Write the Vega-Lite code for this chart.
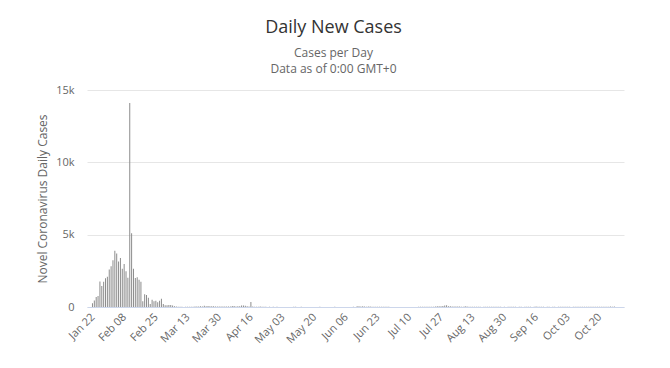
{
"$schema": "https://vega.github.io/schema/vega-lite/v6.json",
"width": 537, "height": 217,
"autosize": "none",
"padding": {"left": 87, "top": 90, "right": 46, "bottom": 61},
"config": {"font": "Open Sans", "view": {"stroke": null}},
"title": {"text": "Daily New Cases", "subtitle": ["Cases per Day", "Data as of 0:00 GMT+0"], "anchor": "middle", "frame": "group", "dx": -22, "fontSize": 18, "fontWeight": "normal", "color": "#333333", "subtitleFontSize": 12, "subtitleColor": "#666666", "subtitlePadding": 11, "subtitleLineHeight": 16, "offset": 9},
"datasets": {"c": [
{"date":"2020-01-22","cases":259},{"date":"2020-01-23","cases":457},{"date":"2020-01-24","cases":688},{"date":"2020-01-25","cases":769},{"date":"2020-01-26","cases":1771},{"date":"2020-01-27","cases":1459},{"date":"2020-01-28","cases":1737},{"date":"2020-01-29","cases":1981},{"date":"2020-01-30","cases":2099},{"date":"2020-01-31","cases":2589},
{"date":"2020-02-01","cases":2825},{"date":"2020-02-02","cases":3235},{"date":"2020-02-03","cases":3884},{"date":"2020-02-04","cases":3694},{"date":"2020-02-05","cases":3143},{"date":"2020-02-06","cases":3385},{"date":"2020-02-07","cases":2652},{"date":"2020-02-08","cases":2973},{"date":"2020-02-09","cases":2467},{"date":"2020-02-10","cases":2015},{"date":"2020-02-11","cases":14108},{"date":"2020-02-12","cases":5090},{"date":"2020-02-13","cases":2641},{"date":"2020-02-14","cases":2008},{"date":"2020-02-15","cases":2048},{"date":"2020-02-16","cases":1888},{"date":"2020-02-17","cases":1749},{"date":"2020-02-18","cases":391},{"date":"2020-02-19","cases":889},{"date":"2020-02-20","cases":823},{"date":"2020-02-21","cases":648},{"date":"2020-02-22","cases":214},{"date":"2020-02-23","cases":508},{"date":"2020-02-24","cases":406},{"date":"2020-02-25","cases":433},{"date":"2020-02-26","cases":327},{"date":"2020-02-27","cases":427},{"date":"2020-02-28","cases":573},{"date":"2020-02-29","cases":202},
{"date":"2020-03-01","cases":125},{"date":"2020-03-02","cases":119},{"date":"2020-03-03","cases":139},{"date":"2020-03-04","cases":143},{"date":"2020-03-05","cases":99},{"date":"2020-03-06","cases":44},{"date":"2020-03-07","cases":40},{"date":"2020-03-08","cases":19},{"date":"2020-03-09","cases":24},{"date":"2020-03-10","cases":15},{"date":"2020-03-11","cases":8},{"date":"2020-03-12","cases":11},{"date":"2020-03-13","cases":20},{"date":"2020-03-14","cases":16},{"date":"2020-03-15","cases":21},{"date":"2020-03-16","cases":13},{"date":"2020-03-17","cases":34},{"date":"2020-03-18","cases":39},{"date":"2020-03-19","cases":41},{"date":"2020-03-20","cases":46},{"date":"2020-03-21","cases":39},{"date":"2020-03-22","cases":78},{"date":"2020-03-23","cases":47},{"date":"2020-03-24","cases":67},{"date":"2020-03-25","cases":55},{"date":"2020-03-26","cases":54},{"date":"2020-03-27","cases":45},{"date":"2020-03-28","cases":31},{"date":"2020-03-29","cases":35},{"date":"2020-03-30","cases":31},{"date":"2020-03-31","cases":36},
{"date":"2020-04-01","cases":35},{"date":"2020-04-02","cases":31},{"date":"2020-04-03","cases":30},{"date":"2020-04-04","cases":39},{"date":"2020-04-05","cases":32},{"date":"2020-04-06","cases":62},{"date":"2020-04-07","cases":63},{"date":"2020-04-08","cases":42},{"date":"2020-04-09","cases":46},{"date":"2020-04-10","cases":46},{"date":"2020-04-11","cases":99},{"date":"2020-04-12","cases":108},{"date":"2020-04-13","cases":89},{"date":"2020-04-14","cases":46},{"date":"2020-04-15","cases":26},{"date":"2020-04-16","cases":352},{"date":"2020-04-17","cases":27},{"date":"2020-04-18","cases":16},{"date":"2020-04-19","cases":12},{"date":"2020-04-20","cases":11},{"date":"2020-04-21","cases":30},{"date":"2020-04-22","cases":10},{"date":"2020-04-23","cases":11},{"date":"2020-04-24","cases":12},{"date":"2020-04-25","cases":3},{"date":"2020-04-26","cases":11},{"date":"2020-04-27","cases":6},{"date":"2020-04-28","cases":22},{"date":"2020-04-29","cases":4},{"date":"2020-04-30","cases":12},
{"date":"2020-05-01","cases":1},{"date":"2020-05-02","cases":2},{"date":"2020-05-03","cases":3},{"date":"2020-05-04","cases":1},{"date":"2020-05-05","cases":2},{"date":"2020-05-06","cases":4},{"date":"2020-05-07","cases":1},{"date":"2020-05-08","cases":1},{"date":"2020-05-09","cases":14},{"date":"2020-05-10","cases":17},{"date":"2020-05-11","cases":7},{"date":"2020-05-12","cases":3},{"date":"2020-05-13","cases":15},{"date":"2020-05-14","cases":4},{"date":"2020-05-15","cases":5},{"date":"2020-05-16","cases":7},{"date":"2020-05-17","cases":5},{"date":"2020-05-18","cases":6},{"date":"2020-05-19","cases":2},{"date":"2020-05-20","cases":3},{"date":"2020-05-21","cases":4},{"date":"2020-05-22","cases":3},{"date":"2020-05-23","cases":11},{"date":"2020-05-24","cases":3},{"date":"2020-05-25","cases":7},{"date":"2020-05-26","cases":1},{"date":"2020-05-27","cases":2},{"date":"2020-05-28","cases":2},{"date":"2020-05-29","cases":4},{"date":"2020-05-30","cases":2},{"date":"2020-05-31","cases":16},
{"date":"2020-06-01","cases":5},{"date":"2020-06-02","cases":1},{"date":"2020-06-03","cases":6},{"date":"2020-06-04","cases":6},{"date":"2020-06-05","cases":3},{"date":"2020-06-06","cases":4},{"date":"2020-06-07","cases":3},{"date":"2020-06-08","cases":3},{"date":"2020-06-09","cases":1},{"date":"2020-06-10","cases":11},{"date":"2020-06-11","cases":6},{"date":"2020-06-12","cases":57},{"date":"2020-06-13","cases":49},{"date":"2020-06-14","cases":40},{"date":"2020-06-15","cases":44},{"date":"2020-06-16","cases":28},{"date":"2020-06-17","cases":25},{"date":"2020-06-18","cases":32},{"date":"2020-06-19","cases":26},{"date":"2020-06-20","cases":22},{"date":"2020-06-21","cases":22},{"date":"2020-06-22","cases":12},{"date":"2020-06-23","cases":19},{"date":"2020-06-24","cases":11},{"date":"2020-06-25","cases":17},{"date":"2020-06-26","cases":12},{"date":"2020-06-27","cases":14},{"date":"2020-06-28","cases":19},{"date":"2020-06-29","cases":12},{"date":"2020-06-30","cases":3},
{"date":"2020-07-01","cases":3},{"date":"2020-07-02","cases":5},{"date":"2020-07-03","cases":8},{"date":"2020-07-04","cases":3},{"date":"2020-07-05","cases":8},{"date":"2020-07-06","cases":7},{"date":"2020-07-07","cases":8},{"date":"2020-07-08","cases":7},{"date":"2020-07-09","cases":5},{"date":"2020-07-10","cases":7},{"date":"2020-07-11","cases":3},{"date":"2020-07-12","cases":8},{"date":"2020-07-13","cases":4},{"date":"2020-07-14","cases":3},{"date":"2020-07-15","cases":11},{"date":"2020-07-16","cases":22},{"date":"2020-07-17","cases":13},{"date":"2020-07-18","cases":22},{"date":"2020-07-19","cases":17},{"date":"2020-07-20","cases":14},{"date":"2020-07-21","cases":22},{"date":"2020-07-22","cases":14},{"date":"2020-07-23","cases":21},{"date":"2020-07-24","cases":34},{"date":"2020-07-25","cases":46},{"date":"2020-07-26","cases":46},{"date":"2020-07-27","cases":57},{"date":"2020-07-28","cases":68},{"date":"2020-07-29","cases":105},{"date":"2020-07-30","cases":127},{"date":"2020-07-31","cases":45},
{"date":"2020-08-01","cases":49},{"date":"2020-08-02","cases":43},{"date":"2020-08-03","cases":36},{"date":"2020-08-04","cases":37},{"date":"2020-08-05","cases":37},{"date":"2020-08-06","cases":29},{"date":"2020-08-07","cases":23},{"date":"2020-08-08","cases":24},{"date":"2020-08-09","cases":44},{"date":"2020-08-10","cases":36},{"date":"2020-08-11","cases":25},{"date":"2020-08-12","cases":19},{"date":"2020-08-13","cases":22},{"date":"2020-08-14","cases":22},{"date":"2020-08-15","cases":16},{"date":"2020-08-16","cases":17},{"date":"2020-08-17","cases":22},{"date":"2020-08-18","cases":7},{"date":"2020-08-19","cases":22},{"date":"2020-08-20","cases":16},{"date":"2020-08-21","cases":22},{"date":"2020-08-22","cases":20},{"date":"2020-08-23","cases":17},{"date":"2020-08-24","cases":15},{"date":"2020-08-25","cases":9},{"date":"2020-08-26","cases":9},{"date":"2020-08-27","cases":9},{"date":"2020-08-28","cases":12},{"date":"2020-08-29","cases":8},{"date":"2020-08-30","cases":10},{"date":"2020-08-31","cases":5},
{"date":"2020-09-01","cases":11},{"date":"2020-09-02","cases":10},{"date":"2020-09-03","cases":10},{"date":"2020-09-04","cases":10},{"date":"2020-09-05","cases":9},{"date":"2020-09-06","cases":6},{"date":"2020-09-07","cases":10},{"date":"2020-09-08","cases":9},{"date":"2020-09-09","cases":8},{"date":"2020-09-10","cases":10},{"date":"2020-09-11","cases":10},{"date":"2020-09-12","cases":12},{"date":"2020-09-13","cases":10},{"date":"2020-09-14","cases":7},{"date":"2020-09-15","cases":14},{"date":"2020-09-16","cases":32},{"date":"2020-09-17","cases":24},{"date":"2020-09-18","cases":14},{"date":"2020-09-19","cases":10},{"date":"2020-09-20","cases":10},{"date":"2020-09-21","cases":7},{"date":"2020-09-22","cases":10},{"date":"2020-09-23","cases":12},{"date":"2020-09-24","cases":8},{"date":"2020-09-25","cases":19},{"date":"2020-09-26","cases":21},{"date":"2020-09-27","cases":7},{"date":"2020-09-28","cases":10},{"date":"2020-09-29","cases":12},{"date":"2020-09-30","cases":10},
{"date":"2020-10-01","cases":15},{"date":"2020-10-02","cases":14},{"date":"2020-10-03","cases":20},{"date":"2020-10-04","cases":11},{"date":"2020-10-05","cases":8},{"date":"2020-10-06","cases":10},{"date":"2020-10-07","cases":21},{"date":"2020-10-08","cases":12},{"date":"2020-10-09","cases":13},{"date":"2020-10-10","cases":24},{"date":"2020-10-11","cases":16},{"date":"2020-10-12","cases":21},{"date":"2020-10-13","cases":11},{"date":"2020-10-14","cases":13},{"date":"2020-10-15","cases":24},{"date":"2020-10-16","cases":17},{"date":"2020-10-17","cases":13},{"date":"2020-10-18","cases":12},{"date":"2020-10-19","cases":13},{"date":"2020-10-20","cases":22},{"date":"2020-10-21","cases":20},{"date":"2020-10-22","cases":17},{"date":"2020-10-23","cases":20},{"date":"2020-10-24","cases":20},{"date":"2020-10-25","cases":25},{"date":"2020-10-26","cases":42},{"date":"2020-10-27","cases":22},{"date":"2020-10-28","cases":26}
]},
"data": {"name": "c"},
"mark": {"type": "bar", "color": "#8c8c8c", "size": 1},
"encoding": {
  "x": {"field": "date", "type": "temporal",
    "scale": {"type": "utc", "domain": [{"year": 2020, "month": 1, "date": 21, "hours": 18, "utc": true}, {"year": 2020, "month": 10, "date": 30, "hours": 12, "utc": true}]},
    "axis": {"title": null, "labelExpr": "utcFormat(datum.value, '%b %d')", "labelAngle": -45, "labelOverlap": false, "labelBound": false, "labelOffset": -4, "labelColor": "#666666", "labelFontSize": 11, "ticks": false, "grid": false, "domainColor": "#ccd6eb", "labelPadding": 4,
      "values": [
        {"year": 2020, "month": 1, "date": 22, "utc": true},
        {"year": 2020, "month": 2, "date": 8, "utc": true},
        {"year": 2020, "month": 2, "date": 25, "utc": true},
        {"year": 2020, "month": 3, "date": 13, "utc": true},
        {"year": 2020, "month": 3, "date": 30, "utc": true},
        {"year": 2020, "month": 4, "date": 16, "utc": true},
        {"year": 2020, "month": 5, "date": 3, "utc": true},
        {"year": 2020, "month": 5, "date": 20, "utc": true},
        {"year": 2020, "month": 6, "date": 6, "utc": true},
        {"year": 2020, "month": 6, "date": 23, "utc": true},
        {"year": 2020, "month": 7, "date": 10, "utc": true},
        {"year": 2020, "month": 7, "date": 27, "utc": true},
        {"year": 2020, "month": 8, "date": 13, "utc": true},
        {"year": 2020, "month": 8, "date": 30, "utc": true},
        {"year": 2020, "month": 9, "date": 16, "utc": true},
        {"year": 2020, "month": 10, "date": 3, "utc": true},
        {"year": 2020, "month": 10, "date": 20, "utc": true}
      ]}},
  "y": {"field": "cases", "type": "quantitative",
    "scale": {"domain": [0, 15000], "nice": false},
    "axis": {"values": [0, 5000, 10000, 15000], "labelExpr": "datum.value == 0 ? '0' : (datum.value / 1000) + 'k'", "gridColor": "#e6e6e6", "domain": false, "ticks": false, "labelPadding": 13, "labelColor": "#666666", "labelFontSize": 11, "title": "Novel Coronavirus Daily Cases", "titleColor": "#666666", "titleFontSize": 12, "titleFontWeight": "normal", "titlePadding": 6}}
}
}
